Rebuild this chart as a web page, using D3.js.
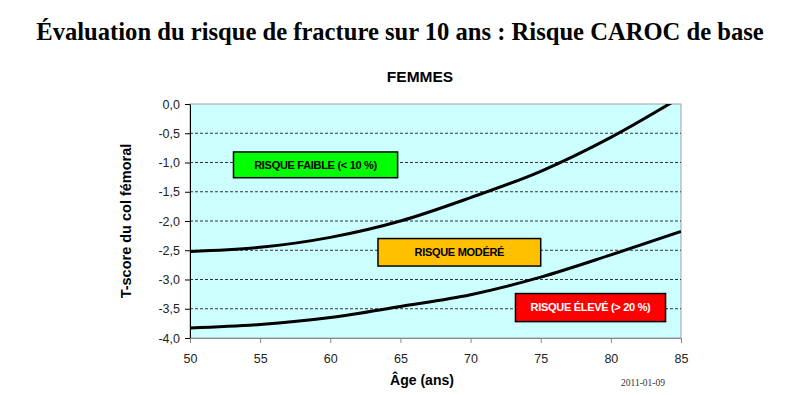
<!DOCTYPE html>
<html>
<head>
<meta charset="utf-8">
<script src="https://cdn.jsdelivr.net/npm/d3@7"></script>
<style>
  body { margin: 0; background: #fff; }
  svg { font-family: Arial, "Liberation Sans", sans-serif; }
</style>
</head>
<body>
<svg id="chart" width="785" height="395"></svg>
<script>
// data
const ages = [50, 55, 60, 65, 70, 75, 80, 85]
const seuilFaible = [-2.52, -2.45, -2.28, -2.0, -1.6, -1.15, -0.57, 0.12]
const seuilEleve = [-3.83, -3.77, -3.65, -3.46, -3.26, -2.96, -2.58, -2.18]
const yTicks = [0, -0.5, -1, -1.5, -2, -2.5, -3, -3.5, -4]
const xTicks = [50, 55, 60, 65, 70, 75, 80, 85]

// zones : [age debut, age fin, T haut, T bas]
const zoneLabels = ["RISQUE FAIBLE (< 10 %)", "RISQUE MODÉRÉ", "RISQUE ÉLEVÉ (> 20 %)"]
const zoneFill = ["#00ff00", "#ffc000", "#ff0000"]
const zoneText = ["#000", "#000", "#fff"]
const zoneAgeStart = [53.1, 63.4, 73.2]
const zoneAgeEnd = [64.8, 75.0, 83.9]
const zoneTop = [-0.82, -2.3, -3.24]
const zoneBottom = [-1.26, -2.77, -3.72]

const svg = d3.select('#chart')

const x = d3.scaleLinear().domain([50, 85]).range([190, 681])
const y = d3.scaleLinear().domain([-4, 0]).range([338, 104])

svg.append('text')
  .attr('x', 400).attr('y', 40)
  .attr('text-anchor', 'middle')
  .style('font-family', '"Liberation Serif", "Times New Roman", serif')
  .style('font-weight', 'bold')
  .style('font-size', '24.6px')
  .text('Évaluation du risque de fracture sur 10 ans : Risque CAROC de base')

svg.append('text')
  .attr('x', 420).attr('y', 82)
  .attr('text-anchor', 'middle')
  .style('font-weight', 'bold').style('font-size', '15.5px')
  .text('FEMMES')

// fond
svg.append('rect')
  .attr('x', x(50)).attr('y', y(0))
  .attr('width', x(85) - x(50)).attr('height', y(-4) - y(0))
  .attr('fill', '#ccffff')
  .attr('stroke', '#a0a0a0').attr('stroke-width', 1)

// grille
svg.append('g')
  .selectAll('line')
  .data(yTicks.filter(d => d != 0 && d != -4))
  .join('line')
  .attr('x1', x(50)).attr('x2', x(85))
  .attr('y1', d => y(d)).attr('y2', d => y(d))
  .attr('stroke', '#333').attr('stroke-width', 1)
  .attr('stroke-dasharray', '3,2')

const fmt = d => d3.format('.1f')(d).replace('.', ',').replace('−', '-')

const yAxis = svg.append('g')
  .attr('transform', `translate(${x(50)},0)`)
  .call(d3.axisLeft(y).tickValues(yTicks).tickSize(5).tickSizeOuter(0).tickFormat(fmt))
yAxis.select('.domain').attr('stroke', '#000')
yAxis.selectAll('text').style('font-size', '12.5px').attr('fill', '#222').attr('dx', '-2')

const xAxis = svg.append('g')
  .attr('transform', `translate(0,${y(-4)})`)
  .call(d3.axisBottom(x).tickValues(xTicks).tickSize(5).tickSizeOuter(0))
xAxis.select('.domain').attr('stroke', '#888')
xAxis.selectAll('.tick line').attr('stroke', '#888')
xAxis.selectAll('text').style('font-size', '12.5px').attr('fill', '#222').attr('dy', '1.35em')

svg.append('clipPath').attr('id', 'clip')
  .append('rect')
  .attr('x', x(50)).attr('y', y(0))
  .attr('width', x(85) - x(50)).attr('height', y(-4) - y(0))

const line = d3.line()
  .x(d => x(d[0]))
  .y(d => y(d[1]))
  .curve(d3.curveMonotoneX)

const courbes = [d3.zip(ages, seuilFaible), d3.zip(ages, seuilEleve)]

svg.append('g').attr('clip-path', 'url(#clip)')
  .selectAll('path')
  .data(courbes)
  .join('path')
  .attr('d', line)
  .attr('fill', 'none')
  .attr('stroke', '#000')
  .attr('stroke-width', 3)

// boites de zone
const zones = svg.append('g')
  .selectAll('g')
  .data(zoneLabels)
  .join('g')

zones.append('rect')
  .attr('x', (d, i) => x(zoneAgeStart[i]))
  .attr('y', (d, i) => y(zoneTop[i]))
  .attr('width', (d, i) => x(zoneAgeEnd[i]) - x(zoneAgeStart[i]))
  .attr('height', (d, i) => y(zoneBottom[i]) - y(zoneTop[i]))
  .attr('fill', (d, i) => zoneFill[i])
  .attr('stroke', '#000').attr('stroke-width', 1.5)

zones.append('text')
  .attr('x', (d, i) => (x(zoneAgeStart[i]) + x(zoneAgeEnd[i])) / 2)
  .attr('y', (d, i) => (y(zoneTop[i]) + y(zoneBottom[i])) / 2)
  .attr('dy', '0.35em')
  .attr('text-anchor', 'middle')
  .attr('fill', (d, i) => zoneText[i])
  .style('font-weight', 'bold').style('font-size', '11px')
  .style('letter-spacing', '-0.3px')
  .text(d => d)

svg.append('text')
  .attr('transform', `translate(131,${(y(0) + y(-4)) / 2}) rotate(-90)`)
  .attr('text-anchor', 'middle')
  .style('font-weight', 'bold').style('font-size', '14.5px')
  .text('T-score du col fémoral')

svg.append('text')
  .attr('x', 422).attr('y', 385)
  .attr('text-anchor', 'middle')
  .style('font-weight', 'bold').style('font-size', '14px')
  .text('Âge (ans)')

svg.append('text')
  .attr('x', 643).attr('y', 386)
  .attr('text-anchor', 'middle')
  .style('font-family', '"Liberation Serif", serif')
  .style('font-size', '9.5px')
  .attr('fill', '#333')
  .text('2011-01-09')
</script>
</body>
</html>
